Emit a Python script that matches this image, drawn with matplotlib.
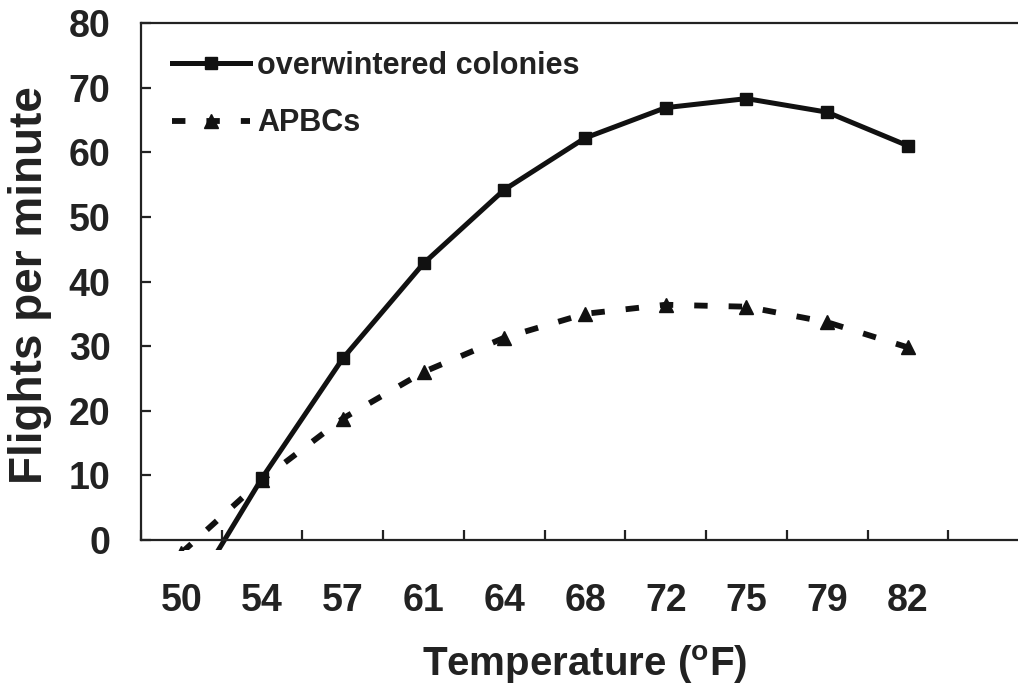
import matplotlib
matplotlib.use("Agg")
import matplotlib.pyplot as plt
from matplotlib.ticker import FixedLocator, NullFormatter

temps = ["50", "54", "57", "61", "64", "68", "72", "75", "79", "82"]
overwintered = [-11.0, 9.6, 28.1, 42.8, 54.2, 62.2, 66.9, 68.3, 66.2, 61.0]
apbcs = [-2.0, 9.3, 18.8, 26.0, 31.3, 35.0, 36.4, 36.1, 33.7, 29.8]
yticks = [0, 10, 20, 30, 40, 50, 60, 70, 80]

plt.rcParams['font.family'] = ['Liberation Sans', 'DejaVu Sans']
plt.rcParams['font.weight'] = 'bold'

W, H = 1018, 698
fig = plt.figure(figsize=(W / 100, H / 100), dpi=100)
ax_left = 141 / W
ax_right = 1029 / W
ax_top = 1 - 23 / H
ax_bottom = 1 - 549.7 / H
ax = fig.add_axes([ax_left, ax_bottom, ax_right - ax_left, ax_top - ax_bottom])

x = list(range(len(temps)))
ax.plot(x, overwintered, color='#111111', lw=3.6, marker='s', markersize=8.5,
        label='overwintered colonies', solid_joinstyle='miter')
ax.plot(x, apbcs, color='#111111', lw=4.2, marker='^', markersize=9.5,
        dashes=(2.3, 3.6), dash_capstyle='butt', label='APBCs')

ax.set_xlim(-0.5, 10.5)
ax.set_ylim(-1.5, 80)

ax.spines['right'].set_visible(False)
ax.spines['bottom'].set_position(('data', 0))
ax.spines['left'].set_bounds(0, 80)
for s in ['left', 'bottom', 'top']:
    ax.spines[s].set_linewidth(1.6)
    ax.spines[s].set_color('#222222')

ax.set_yticks(yticks)
ax.set_yticklabels([str(v) for v in yticks])
ax.tick_params(axis='y', direction='in', length=7, width=1.6, pad=22,
               labelsize=27, colors='#222222')
ax.xaxis.set_major_locator(FixedLocator([i + 0.5 for i in range(-1, 11)]))
ax.xaxis.set_major_formatter(NullFormatter())
ax.xaxis.set_minor_locator(FixedLocator(x))
ax.set_xticklabels(temps, minor=True)
ax.tick_params(axis='x', which='major', direction='in', length=7, width=1.6, colors='#222222')
ax.tick_params(axis='x', which='minor', length=0, pad=31, labelsize=27, colors='#222222')

fig.text(585 / W, 1 - 665 / H, 'Temperature ($^{\\mathregular{o}}$F)', ha='center', va='center',
         fontsize=29, fontweight='bold', color='#222222')
fig.text(30 / W, 1 - 285 / H, 'Flights per minute', ha='center', va='center',
         rotation=90, fontsize=33, fontweight='bold', color='#222222')

leg = ax.legend(loc='upper left', bbox_to_anchor=(0.035, 0.947), frameon=False,
                fontsize=22, handlelength=2.55, handletextpad=0.23, labelspacing=0.9,
                borderaxespad=0, borderpad=0)
for t in leg.get_texts():
    t.set_color('#222222')

fig.savefig('out.png', dpi=100)
